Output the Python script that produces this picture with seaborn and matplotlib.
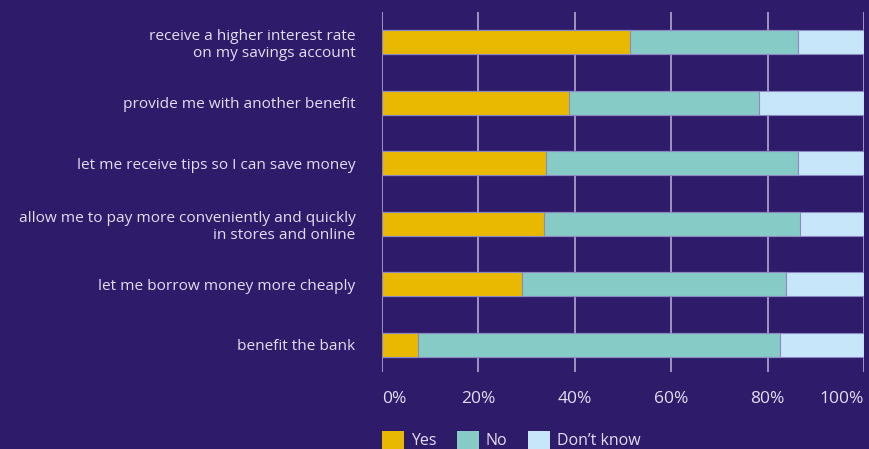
import numpy as np
import pandas as pd
import matplotlib.pyplot as plt
import seaborn as sns
from matplotlib.patches import Patch

# data (shares in %)
categories = [
    "receive a higher interest rate\non my savings account",
    "provide me with another benefit",
    "let me receive tips so I can save money",
    "allow me to pay more conveniently and quickly\nin stores and online",
    "let me borrow money more cheaply",
    "benefit the bank",
]
yes = [51.5, 38.9, 34.1, 33.7, 29.1, 7.4]
no = [34.9, 39.4, 52.3, 53.1, 54.7, 75.2]
dont_know = [13.6, 21.7, 13.6, 13.2, 16.2, 17.4]
series_names = ["Yes", "No", "Don\u2019t know"]
x_ticks = [0, 20, 40, 60, 80, 100]
x_tick_labels = ["0%", "20%", "40%", "60%", "80%", "100%"]

bg = "#2e1b69"
txt = "#e4def2"
colors = ["#e8b900", "#86cbc6", "#c8e6f9"]
edge = "#8d87c4"

sns.set_theme(style="white")
plt.rcParams['font.family'] = ['Open Sans', 'DejaVu Sans']

df = pd.DataFrame({"cat": categories, "yes": yes, "no": no, "dk": dont_know})
df["c_no"] = df["yes"] + df["no"]
df["c_dk"] = df["c_no"] + df["dk"]

fig = plt.figure(figsize=(8.69, 4.49), dpi=100, facecolor=bg)
ax = fig.add_axes([382 / 869, 1 - 372 / 449, 482 / 869, 360 / 449])
ax.set_facecolor(bg)

# stacked bars: draw the cumulative layers back to front
for col, c in zip(["c_dk", "c_no", "yes"], colors[::-1]):
    sns.barplot(data=df, x=col, y="cat", orient="h", color=c, width=0.4,
                edgecolor=edge, linewidth=0.8, saturation=1, ax=ax, zorder=3)

ax.set_xlim(0, 100)
ax.set_ylim(5.45, -0.5)
ax.set_xticks(x_ticks)
ax.set_xticklabels(x_tick_labels)
ax.grid(axis="x", color="#bdb5dc", linewidth=1.1)
ax.grid(axis="y", visible=False)
ax.set_axisbelow(True)
ax.set_xlabel("")
ax.set_ylabel("")
for s in ax.spines.values():
    s.set_visible(False)

ax.tick_params(axis="x", length=0, pad=14, labelsize=12.5, labelcolor=txt)
ax.tick_params(axis="y", length=0, pad=19, labelsize=11.1, labelcolor=txt)
xl = ax.get_xticklabels()
xl[0].set_ha("left")
xl[-1].set_ha("right")

handles = [Patch(facecolor=c, edgecolor="none") for c in colors]
fig.legend(handles, series_names, loc="lower left", bbox_to_anchor=(382 / 869, 0),
           ncol=3, frameon=False, fontsize=11.5, labelcolor=txt,
           handlelength=1.35, handleheight=1.35, handletextpad=0.45,
           columnspacing=1.3, borderpad=0, borderaxespad=0)

fig.savefig("out.png", dpi=100, facecolor=bg)
